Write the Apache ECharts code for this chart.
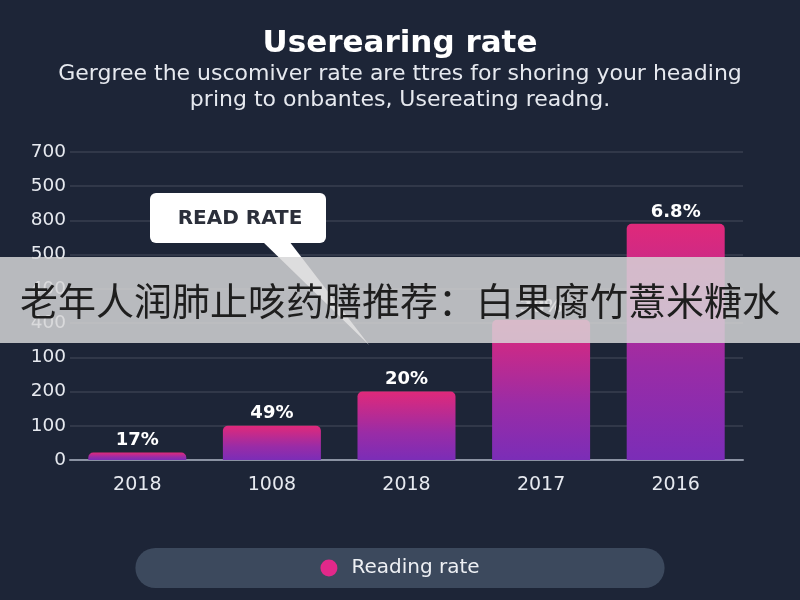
<!DOCTYPE html>
<html>
<head>
<meta charset="utf-8">
<title>Userearing rate</title>
<script src="https://cdn.jsdelivr.net/npm/echarts@6/dist/echarts.min.js"></script>
<style>
	html, body {margin: 0; padding: 0; background: #1d2537;}
	#container {width: 800px; height: 600px;}
</style>
</head>
<body>
<div id="container"></div>
<script>
// chart data
const Years = ['2018', '1008', '2018', '2017', '2016'];
const ReadValues = [22, 100, 200, 410, 690];
const RateLabels = ['17%', '49%', '20%', '38%', '6.8%'];
const YTickLabels = ['0', '100', '200', '100', '400', '400', '500', '800', '500', '700'];

const Font = '"DejaVu Sans", Verdana, sans-serif';
const chart = echarts.init(document.getElementById('container'));

const option = {
	backgroundColor: '#1d2537',
	textStyle: {fontFamily: Font},
	title: {
		text: 'Userearing rate',
		subtext: 'Gergree the uscomiver rate are ttres for shoring your heading\npring to onbantes, Usereating readng.',
		left: 'center', top: 23, itemGap: 2,
		textStyle: {color: '#ffffff', fontSize: 31, fontWeight: 'bold', fontFamily: Font},
		subtextStyle: {color: '#e6e9ef', fontSize: 22, lineHeight: 26, align: 'center', fontFamily: Font}
	},
	legend: {
		data: ['Reading rate'], bottom: 12, left: 'center', icon: 'circle',
		itemWidth: 17, itemHeight: 17, itemGap: 10,
		itemStyle: {color: '#e2288a'},
		padding: [10, 185], backgroundColor: '#3c495d', borderRadius: 20,
		formatter: '{a|{name}}',
		textStyle: {
			color: '#eef0f4', fontSize: 20, fontFamily: Font,
			rich: {a: {color: '#eef0f4', fontSize: 20, fontFamily: Font, padding: [0, 0, 0, 9]}}
		}
	},
	grid: {left: 70, right: 57, top: 152, bottom: 140},
	xAxis: {
		type: 'category', data: Years,
		axisLine: {lineStyle: {color: '#8b93a3', width: 2}},
		axisTick: {show: false},
		axisLabel: {color: '#e6e9ef', fontSize: 19, margin: 16}
	},
	yAxis: {
		type: 'value', min: 0, max: 900, interval: 100,
		axisLabel: {
			color: '#e6e9ef', fontSize: 18.5, margin: 4,
			formatter: function (v) {
				return YTickLabels[Math.round(v / 100)];
			}
		},
		splitLine: {lineStyle: {color: 'rgba(255,255,255,0.12)', width: 1.5}}
	},
	series: [{
		name: 'Reading rate', type: 'bar', data: ReadValues, barWidth: 98,
		itemStyle: {
			borderRadius: [5, 5, 0, 0],
			color: new echarts.graphic.LinearGradient(0, 0, 0, 1, [
				{offset: 0, color: '#e0297a'},
				{offset: 0.6, color: '#9a2ca6'},
				{offset: 1, color: '#7b2db7'}
			])
		},
		label: {
			show: true, position: 'top', distance: 3, color: '#ffffff',
			fontSize: 18, fontWeight: 'bold',
			formatter: function (p) {
				return RateLabels[p.dataIndex];
			}
		}
	}],
	graphic: [{
		// callout tail
		type: 'polygon', z: 100,
		shape: {points: [[262, 241], [289, 241], [369, 345]]},
		style: {fill: '#ffffff'}
	}, {
		type: 'rect', z: 100,
		shape: {x: 150, y: 193, width: 176, height: 50, r: 6},
		style: {fill: '#ffffff'}
	}, {
		type: 'text', z: 101, x: 240, y: 219,
		style: {
			text: 'READ RATE', fill: '#2b2f3a', fontSize: 20, fontWeight: 'bold',
			fontFamily: Font, align: 'center', verticalAlign: 'middle'
		}
	}, {
		// banner overlay
		type: 'rect', z: 200,
		shape: {x: 0, y: 257, width: 800, height: 86},
		style: {fill: 'rgba(214,214,216,0.84)'}
	}, {
		type: 'text', z: 201, x: 400, y: 301,
		style: {
			text: '老年人润肺止咳药膳推荐：白果腐竹薏米糖水', fill: '#1e1e1e', fontSize: 38,
			fontFamily: '"Noto Sans CJK SC", sans-serif', align: 'center', verticalAlign: 'middle'
		}
	}]
};
chart.setOption(option);
</script>
</body>
</html>
